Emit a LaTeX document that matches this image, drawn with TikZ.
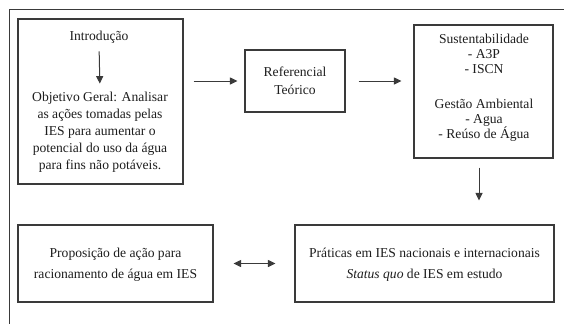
\documentclass[tikz,border=0pt]{standalone}
\usepackage{fontspec}
\setmainfont{Liberation Serif}
\newfontfamily\serifa{Liberation Serif}
\usetikzlibrary{arrows.meta,positioning}
\definecolor{Ink}{HTML}{3A3A3A}
\definecolor{Texto}{HTML}{1E1E1E}
\tikzset{
  etapa/.style={
    draw=Ink, line width=1.1pt, fill=white, inner sep=0pt
  },
  texto/.style={
    align=center, inner sep=0pt, text=Texto,
    font=\serifa\fontsize{13.6}{17}\selectfont
  },
  moldura/.style={line width=1pt, draw=Ink},
  seta/.style={-{Triangle[length=7.5pt,width=7pt]}, line width=1pt, draw=Ink},
  setadupla/.style={{Triangle[length=7.5pt,width=7pt]}-{Triangle[length=7.5pt,width=7pt]},
    line width=1pt, draw=Ink}
}

\begin{document}
\begin{tikzpicture}[x=1pt,y=-1pt,node distance=15pt]
  \useasboundingbox (0,0) rectangle (564,324);
  \draw[moldura] (564,9) -- (9,9) -- (9,324);

  % linha de cima
  \node[etapa,minimum width=165pt,minimum height=165pt] (intro) at (100.5,101.5) {};
  \node[texto] (introd) at (99,37) {Introdução};
  \node[texto] (obj) at (100,132) {Objetivo Geral: Analisar\\as ações tomadas pelas\\IES para aumentar o\\potencial do uso da água\\para fins não potáveis.};
  \draw[seta,shorten <=8pt,shorten >=8pt] (introd.south) -- (obj.north);

  \node[etapa,minimum width=100pt,minimum height=62pt] (ref) at (295,81) {};
  \node[texto,font=\serifa\fontsize{13.6}{18}\selectfont] (reftxt) at (ref) {Referencial\\Teórico};

  \node[etapa,minimum width=139pt,minimum height=133pt] (sust) at (483.5,91.5) {};
  \node[texto,font=\serifa\fontsize{13.6}{15}\selectfont] (susttxt) at (484,88)
    {Sustentabilidade\\- A3P\\- ISCN\\[20pt]Gestão Ambiental\\- Agua\\- Reúso de Água};

  \draw[seta,shorten <=10pt,shorten >=7pt] (intro.east |- ref.west) -- (ref.west);
  \draw[seta,shorten <=13pt,shorten >=12pt] (ref.east) -- (sust.west |- ref.east);

  % linha de baixo
  \node[etapa,minimum width=195pt,minimum height=77pt] (prop) at (115.5,263.5) {};
  \node[texto,font=\serifa\fontsize{13.6}{21}\selectfont] (proptxt) at (115.5,265) {Proposição de ação para\\racionamento de água em IES};

  \node[etapa,minimum width=259pt,minimum height=77pt] (prat) at (424.5,263.5) {};
  \node[texto,font=\serifa\fontsize{13.6}{21}\selectfont] (prattxt) at (424.5,265) {Práticas em IES nacionais e internacionais\\\textit{Status quo} de IES em estudo};

  \draw[seta,shorten <=9pt,shorten >=24pt] (sust.south) ++(-4.5,0) coordinate (saida) (saida) -- (saida |- prat.north);
  \draw[setadupla,shorten <=20pt,shorten >=19pt] (prop.east) -- (prat.west);
\end{tikzpicture}
\end{document}
